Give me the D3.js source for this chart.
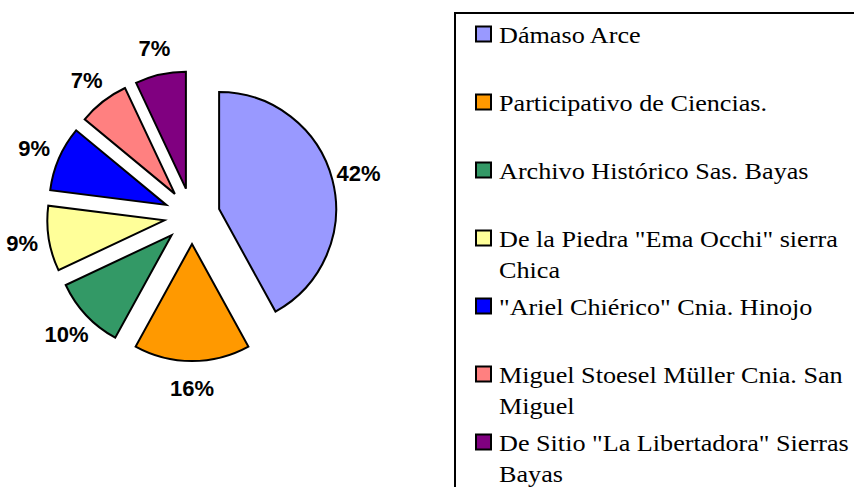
<!DOCTYPE html>
<html>
<head>
<meta charset="utf-8">
<script src="https://cdn.jsdelivr.net/npm/d3@7"></script>
<style>
  body { margin: 0; background: #fff; }
  svg { display: block; }
</style>
</head>
<body>
<svg></svg>
<script>
//////////////////////////////////////////////////////////////////////////////
//data - museums and their share (%)
//////////////////////////////////////////////////////////////////////////////
var categories = [
	"Dámaso Arce",
	"Participativo de Ciencias.",
	"Archivo Histórico Sas. Bayas",
	"De la Piedra \"Ema Occhi\" sierra Chica",
	"\"Ariel Chiérico\" Cnia. Hinojo",
	"Miguel Stoesel Müller Cnia. San Miguel",
	"De Sitio \"La Libertadora\" Sierras Bayas"
];
var values = [42, 16, 10, 9, 9, 7, 7];
var colors = ["#9999FF", "#FF9900", "#339966", "#FFFF99", "#0000FF", "#FF8080", "#800080"];
//percentage labels shown beside each slice
var pctLabels = ["42%", "16%", "10%", "9%", "9%", "7%", "7%"];

var width = 854, height = 487;
var serifFont = "'Liberation Serif'";
var sansFont = "'Liberation Sans'";

var svg = d3.select('svg')
	.attr('width', width)
	.attr('height', height);

//////////////////////////////////////////////////////////////////////////////
//exploded pie
//////////////////////////////////////////////////////////////////////////////
var cx = 192, cy = 216;
var radius = 117;
var explode = 28; //distance each slice is pulled out
var labelR = 172;

var pie = d3.pie()
	.sort(null)
	.value(function(d) { return d; });

var arc = d3.arc()
	.innerRadius(0)
	.outerRadius(radius);

var arcs = pie(values);

var pieG = svg.append('g')
	.attr('transform', 'translate(' + cx + ',' + cy + ')');

pieG.selectAll('path')
	.data(arcs)
	.enter()
	.append('path')
	.attr('transform', function(d) {
		var mid = (d.startAngle + d.endAngle) / 2;
		return 'translate(' + (Math.sin(mid) * explode) + ',' + (-Math.cos(mid) * explode) + ')';
	})
	.attr('d', arc)
	.attr('fill', function(d, i) { return colors[i]; })
	.attr('stroke', '#000')
	.attr('stroke-width', 2)
	.attr('stroke-linejoin', 'miter');

pieG.selectAll('text')
	.data(arcs)
	.enter()
	.append('text')
	.attr('x', function(d) { return Math.sin((d.startAngle + d.endAngle) / 2) * labelR; })
	.attr('y', function(d) { return -Math.cos((d.startAngle + d.endAngle) / 2) * labelR; })
	.attr('dy', '0.36em')
	.attr('text-anchor', 'middle')
	.style('font-family', sansFont)
	.style('font-size', '22px')
	.style('font-weight', 'bold')
	.attr('fill', '#000')
	.text(function(d, i) { return pctLabels[i]; });

//////////////////////////////////////////////////////////////////////////////
//legend box (runs off the right and bottom edge like the original)
//////////////////////////////////////////////////////////////////////////////
var legX = 455, legY = 13;
var rowStep = 68, lineStep = 31;
var stretch = 1.09; //legend text looks horizontally stretched
var maxTextW = 362;

svg.append('rect')
	.attr('x', legX)
	.attr('y', legY)
	.attr('width', 420)
	.attr('height', 500)
	.attr('fill', '#fff')
	.attr('stroke', '#000')
	.attr('stroke-width', 2);

var legend = svg.append('g');

categories.forEach(function(name, i) {
	var yc = 34 + i * rowStep; //centre of the swatch

	legend.append('rect')
		.attr('x', 476)
		.attr('y', yc - 7.5)
		.attr('width', 15)
		.attr('height', 15)
		.attr('fill', colors[i])
		.attr('stroke', '#000')
		.attr('stroke-width', 2);

	//wrap the label into lines that fit the box
	var words = name.split(' ');
	var lines = [];
	var cur = '';
	var probe = legend.append('text')
		.style('font-family', serifFont)
		.style('font-size', '24px');
	words.forEach(function(w) {
		var test = cur ? cur + ' ' + w : w;
		probe.text(test);
		if (cur && probe.node().getComputedTextLength() * stretch > maxTextW) {
			lines.push(cur);
			cur = w;
		} else {
			cur = test;
		}
	});
	lines.push(cur);
	probe.remove();

	lines.forEach(function(line, j) {
		var t = legend.append('text')
			.attr('x', 499)
			.attr('y', yc + 8.5 + j * lineStep)
			.style('font-family', serifFont)
			.style('font-size', '24px')
			.attr('fill', '#000')
			.text(line);
		var natural = t.node().getComputedTextLength();
		t.attr('textLength', natural * stretch)
			.attr('lengthAdjust', 'spacingAndGlyphs');
	});
});
</script>
</body>
</html>
